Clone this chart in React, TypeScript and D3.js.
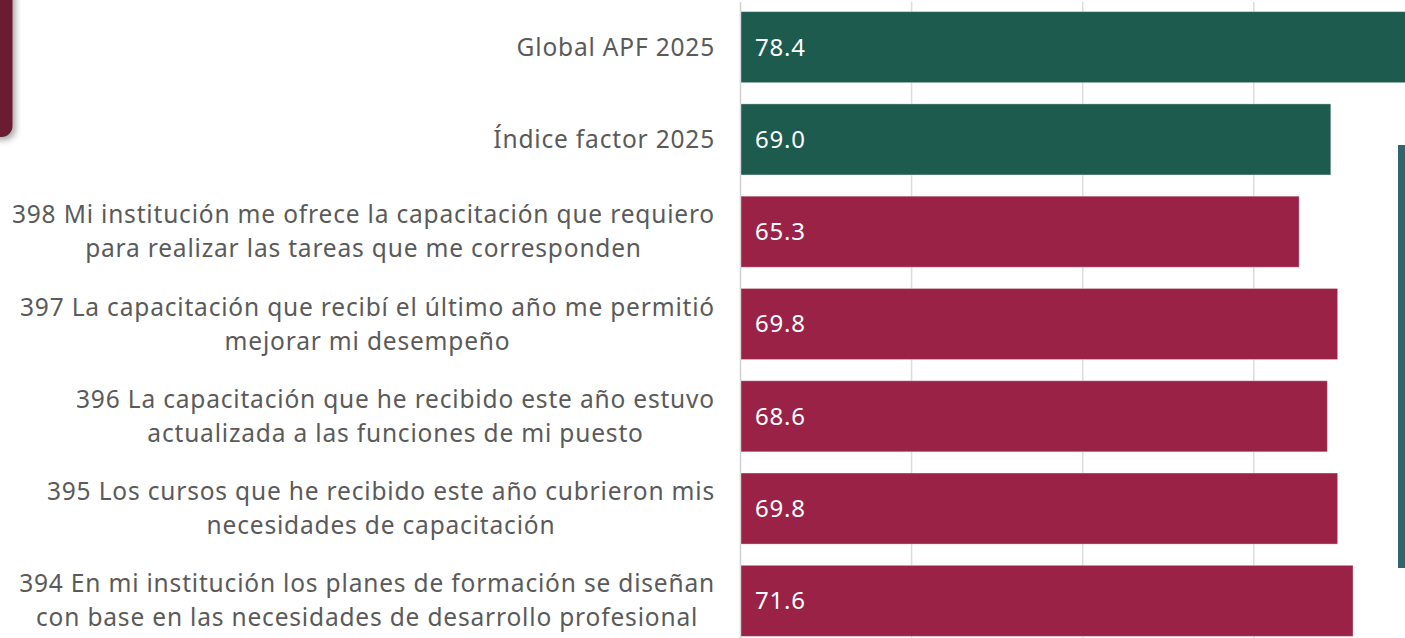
import React, { useEffect, useRef } from "react";
import * as d3 from "d3";

const categories = [
  "Global APF 2025",
  "Índice factor 2025",
  "398 Mi institución me ofrece la capacitación que requiero\npara realizar las tareas que me corresponden",
  "397 La capacitación que recibí el último año me permitió\nmejorar mi desempeño",
  "396 La capacitación que he recibido este año estuvo\nactualizada a las funciones de mi puesto",
  "395 Los cursos que he recibido este año cubrieron mis\nnecesidades de capacitación",
  "394 En mi institución los planes de formación se diseñan\ncon base en las necesidades de desarrollo profesional",
];
const values = [78.4, 69.0, 65.3, 69.8, 68.6, 69.8, 71.6];
const groups = ["indice", "indice", "reactivo", "reactivo", "reactivo", "reactivo", "reactivo"];
const gridTicks = [0, 20, 40, 60, 80];

const colors: Record<string, string> = { indice: "#1e5b4f", reactivo: "#9b2247" };

export default function App() {
  const svgRef = useRef<SVGSVGElement>(null);
  const width = 1405;
  const height = 638;

  useEffect(() => {
    const svg = d3.select(svgRef.current);
    svg.selectAll("*").remove();

    const margin = { top: 1, left: 740.5 };
    const xScale = d3.scaleLinear().domain([0, 80]).range([margin.left, margin.left + 684.4]);
    const yScale = d3
      .scaleBand<string>()
      .domain(categories)
      .range([margin.top, 647])
      .paddingInner(0.23)
      .paddingOuter(0.115);

    const font = "'Noto Sans', 'Open Sans', sans-serif";

    const defs = svg.append("defs");
    const shadow = defs.append("filter").attr("id", "shadow").attr("x", "-50%").attr("y", "-50%").attr("width", "200%").attr("height", "200%");
    shadow.append("feDropShadow").attr("dx", 3).attr("dy", 3).attr("stdDeviation", 3).attr("flood-color", "#000").attr("flood-opacity", 0.35);

    // decoration pieces at the edges
    svg.append("rect")
      .attr("x", -30).attr("y", -30).attr("width", 42.5).attr("height", 167)
      .attr("rx", 11).attr("fill", "#691c32").attr("filter", "url(#shadow)");
    svg.append("rect")
      .attr("x", 1398).attr("y", 145).attr("width", 12).attr("height", 423)
      .attr("fill", "#2f6571");

    // gridlines
    svg.append("g")
      .selectAll("line")
      .data(gridTicks.slice(1))
      .join("line")
      .attr("x1", (d) => xScale(d)).attr("x2", (d) => xScale(d))
      .attr("y1", 2).attr("y2", height)
      .attr("stroke", "#dcdcdc").attr("stroke-width", 1.5);

    svg.append("line")
      .attr("x1", xScale(0)).attr("x2", xScale(0))
      .attr("y1", 2).attr("y2", height)
      .attr("stroke", "#d0d0d0").attr("stroke-width", 1.5);

    // bars
    svg.append("g")
      .selectAll("rect")
      .data(categories)
      .join("rect")
      .attr("x", xScale(0) + 0.5)
      .attr("y", (d) => yScale(d)!)
      .attr("width", (d, i) => xScale(values[i]) - xScale(0) - 0.5)
      .attr("height", yScale.bandwidth())
      .attr("fill", (d, i) => colors[groups[i]])
      .attr("stroke", "rgba(255,255,255,0.35)")
      .attr("stroke-width", 1);

    // value labels
    svg.append("g")
      .selectAll("text")
      .data(categories)
      .join("text")
      .attr("x", xScale(0) + 14.5)
      .attr("y", (d) => yScale(d)! + yScale.bandwidth() / 2)
      .attr("dy", "0.35em")
      .attr("fill", "#ffffff")
      .style("font-family", font)
      .style("font-size", "24px")
      .style("letter-spacing", "0.8px")
      .text((d, i) => values[i].toFixed(1));

    // category labels: lines centred inside a right-aligned block
    const labelRight = 715;
    const lineGap = 34;
    const labelG = svg.append("g");
    categories.forEach((cat) => {
      const lines = cat.split("\n");
      const cy = yScale(cat)! + yScale.bandwidth() / 2;
      const t = labelG
        .append("text")
        .attr("fill", "#5a5a5a")
        .attr("text-anchor", "middle")
        .style("font-family", font)
        .style("font-size", "24.5px")
        .style("letter-spacing", "0.82px");
      lines.forEach((ln, j) => {
        t.append("tspan")
          .attr("y", cy + (j - (lines.length - 1) / 2) * lineGap)
          .attr("dy", "0.35em")
          .text(ln);
      });
      let maxW = 0;
      t.selectAll<SVGTSpanElement, unknown>("tspan").each(function () {
        maxW = Math.max(maxW, this.getComputedTextLength());
      });
      t.selectAll("tspan").attr("x", labelRight - maxW / 2);
    });
  }, []);

  return (
    <svg
      ref={svgRef}
      width={width}
      height={height}
      style={{ position: "absolute", left: 0, top: 0, background: "#ffffff" }}
    />
  );
}
